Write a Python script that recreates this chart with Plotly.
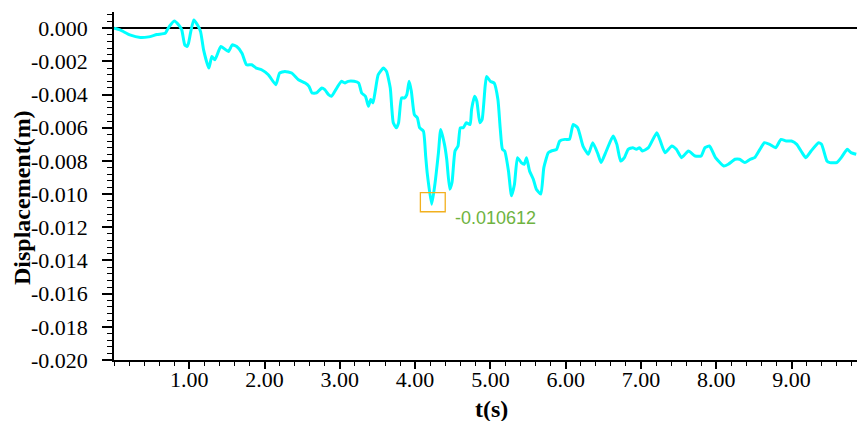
import plotly.graph_objects as go

# Time history of displacement
t = [0.00, 0.08, 0.21, 0.35, 0.46, 0.57, 0.68, 0.70, 0.74, 0.80, 0.86, 0.90, 0.94, 0.97, 0.99,
     1.02, 1.06, 1.11, 1.15, 1.19, 1.26, 1.30, 1.34, 1.42, 1.52, 1.57, 1.63, 1.70, 1.76, 1.83,
     1.89, 1.96, 2.05, 2.15, 2.20, 2.27, 2.36, 2.45, 2.54, 2.59, 2.63, 2.69, 2.76, 2.80, 2.85,
     2.89, 2.96, 3.02, 3.07, 3.11, 3.19, 3.25, 3.29, 3.34, 3.38, 3.41, 3.44, 3.47, 3.51, 3.58,
     3.62, 3.67, 3.69, 3.71, 3.75, 3.78, 3.82, 3.86, 3.89, 3.92, 3.95, 3.99, 4.03, 4.06, 4.11,
     4.14, 4.16, 4.22, 4.26, 4.31, 4.34, 4.39, 4.42, 4.46, 4.49, 4.53, 4.57, 4.60, 4.64, 4.68,
     4.73, 4.75, 4.79, 4.82, 4.86, 4.89, 4.93, 4.95, 5.00, 5.05, 5.10, 5.13, 5.16, 5.19, 5.24,
     5.28, 5.32, 5.36, 5.41, 5.45, 5.48, 5.52, 5.57, 5.61, 5.67, 5.71, 5.77, 5.81, 5.88, 5.92,
     5.99, 6.05, 6.10, 6.16, 6.23, 6.30, 6.36, 6.43, 6.47, 6.54, 6.63, 6.68, 6.73, 6.78, 6.83,
     6.89, 6.94, 6.98, 7.02, 7.10, 7.21, 7.25, 7.32, 7.41, 7.47, 7.54, 7.63, 7.72, 7.80, 7.85,
     7.91, 7.99, 8.10, 8.16, 8.25, 8.31, 8.38, 8.45, 8.51, 8.58, 8.64, 8.71, 8.79, 8.86, 8.93,
     9.00, 9.07, 9.14, 9.19, 9.26, 9.36, 9.40, 9.47, 9.51, 9.60, 9.66, 9.74, 9.79, 9.86]

disp = [0.0000, -0.0001, -0.0004, -0.00056, -0.00052, -0.00038, -0.0003, -0.00016, 0.00014, 0.00044,
        0.0002, -0.0001, -0.0010, -0.0011, -0.0009, -0.0002, 0.0005, 0.0002, -0.0002, -0.0013,
        -0.0024, -0.0017, -0.0019, -0.0011, -0.0014, -0.0010, -0.0011, -0.0015, -0.0022, -0.0022,
        -0.0024, -0.0025, -0.0028, -0.0034, -0.0027, -0.0026, -0.0027, -0.0031, -0.0033, -0.0035,
        -0.0039, -0.0039, -0.0036, -0.0037, -0.0040, -0.0041, -0.0036, -0.0032, -0.0033, -0.0032,
        -0.0032, -0.0033, -0.0039, -0.0041, -0.0047, -0.0043, -0.0045, -0.0038, -0.0028, -0.0024,
        -0.0026, -0.0036, -0.0048, -0.0057, -0.0060, -0.0057, -0.0042, -0.0042, -0.0040, -0.0032,
        -0.0038, -0.0052, -0.0054, -0.0060, -0.0062, -0.0077, -0.0087, -0.010612, -0.0095, -0.0075,
        -0.0061, -0.0070, -0.0079, -0.0097, -0.0093, -0.0074, -0.0071, -0.0060, -0.0060, -0.0057,
        -0.0058, -0.0049, -0.0041, -0.0044, -0.0057, -0.0055, -0.0035, -0.0029, -0.0032, -0.0033,
        -0.0043, -0.0060, -0.0073, -0.0074, -0.0086, -0.0101, -0.0094, -0.0078, -0.0081, -0.0082,
        -0.0078, -0.0086, -0.0091, -0.0097, -0.0100, -0.0084, -0.0075, -0.0074, -0.0073, -0.0068,
        -0.0067, -0.0067, -0.0058, -0.0060, -0.0071, -0.0076, -0.0069, -0.0076, -0.0081, -0.0074,
        -0.0065, -0.0070, -0.0080, -0.0078, -0.0073, -0.0072, -0.0073, -0.0072, -0.0074, -0.0072,
        -0.0063, -0.0067, -0.0075, -0.0071, -0.0073, -0.0078, -0.0074, -0.0077, -0.0077, -0.0072,
        -0.0071, -0.0078, -0.0083, -0.0082, -0.0079, -0.0079, -0.0081, -0.0079, -0.0078, -0.0073,
        -0.0069, -0.0070, -0.0072, -0.0067, -0.0068, -0.0068, -0.0070, -0.0075, -0.0078, -0.0074,
        -0.0069, -0.0070, -0.0080, -0.0081, -0.0081, -0.0078, -0.0073, -0.0075, -0.0076]

x_tickvals = [1, 2, 3, 4, 5, 6, 7, 8, 9]
x_ticktext = ["1.00", "2.00", "3.00", "4.00", "5.00", "6.00", "7.00", "8.00", "9.00"]
y_tickvals = [0.000, -0.002, -0.004, -0.006, -0.008, -0.010, -0.012, -0.014, -0.016, -0.018, -0.020]
y_ticktext = ["0.000", "-0.002", "-0.004", "-0.006", "-0.008", "-0.010", "-0.012",
              "-0.014", "-0.016", "-0.018", "-0.020"]
x_title = "t(s)"
y_title = "Displacement(m)"

# locate the minimum for the highlight box and label
i_min = min(range(len(disp)), key=lambda i: disp[i])
t_min, d_min = t[i_min], disp[i_min]

SERIF = "Liberation Serif"
tick_font = dict(family=SERIF, size=22, color="black")
title_font = dict(family=SERIF, size=24, color="black")

fig = go.Figure()
fig.add_trace(go.Scatter(
    x=t, y=disp, mode="lines",
    line=dict(color="#00FFFF", width=3, shape="spline", smoothing=0.5),
    showlegend=False, hoverinfo="skip",
))

# highlight box and value label at the minimum
fig.add_shape(type="rect", xref="x", yref="y",
              x0=t_min - 0.15, x1=t_min + 0.18,
              y0=d_min + 0.0007, y1=d_min - 0.00045,
              line=dict(color="#F2B01E", width=1.3))
fig.add_annotation(x=t_min + 0.28, y=d_min - 0.00085, xref="x", yref="y",
                   text=f"{d_min:.6f}", showarrow=False, xanchor="left", yanchor="middle",
                   font=dict(family="Liberation Sans", size=18, color="#6FB33F"))

# axis titles
fig.add_annotation(x=0.508, y=-0.14, xref="paper", yref="paper",
                   text=f"<b>{x_title}</b>", showarrow=False,
                   xanchor="center", yanchor="middle", font=title_font)
fig.add_annotation(x=-0.124, y=0.468, xref="paper", yref="paper",
                   text=f"<b>{y_title}</b>", showarrow=False, textangle=-90,
                   xanchor="center", yanchor="middle", font=title_font)

fig.update_layout(
    width=857, height=421,
    margin=dict(l=114, r=0, t=12, b=61),
    paper_bgcolor="white", plot_bgcolor="white",
    font=dict(family=SERIF, size=22, color="black"),
)
fig.update_xaxes(
    range=[0, 9.87], showgrid=False, zeroline=False,
    showline=True, linecolor="black", linewidth=1.5,
    ticks="outside", ticklen=7, tickwidth=1.5, tickcolor="black",
    tickmode="array", tickvals=x_tickvals, ticktext=x_ticktext,
    tickfont=tick_font, ticklabelstandoff=-8,
    minor=dict(dtick=0.2, tick0=0, ticks="outside", ticklen=4, tickwidth=1.2,
               tickcolor="black", showgrid=False),
)
fig.update_yaxes(
    range=[-0.020, 0.00098], showgrid=False,
    zeroline=True, zerolinecolor="black", zerolinewidth=1.5,
    showline=True, linecolor="black", linewidth=1.5,
    ticks="outside", ticklen=10, tickwidth=1.5, tickcolor="black",
    tickmode="array", tickvals=y_tickvals, ticktext=y_ticktext,
    tickfont=tick_font, ticklabelstandoff=10,
    minor=dict(dtick=0.0004, tick0=0, ticks="outside", ticklen=5, tickwidth=1.2,
               tickcolor="black", showgrid=False),
)

fig.write_html("out.html")
